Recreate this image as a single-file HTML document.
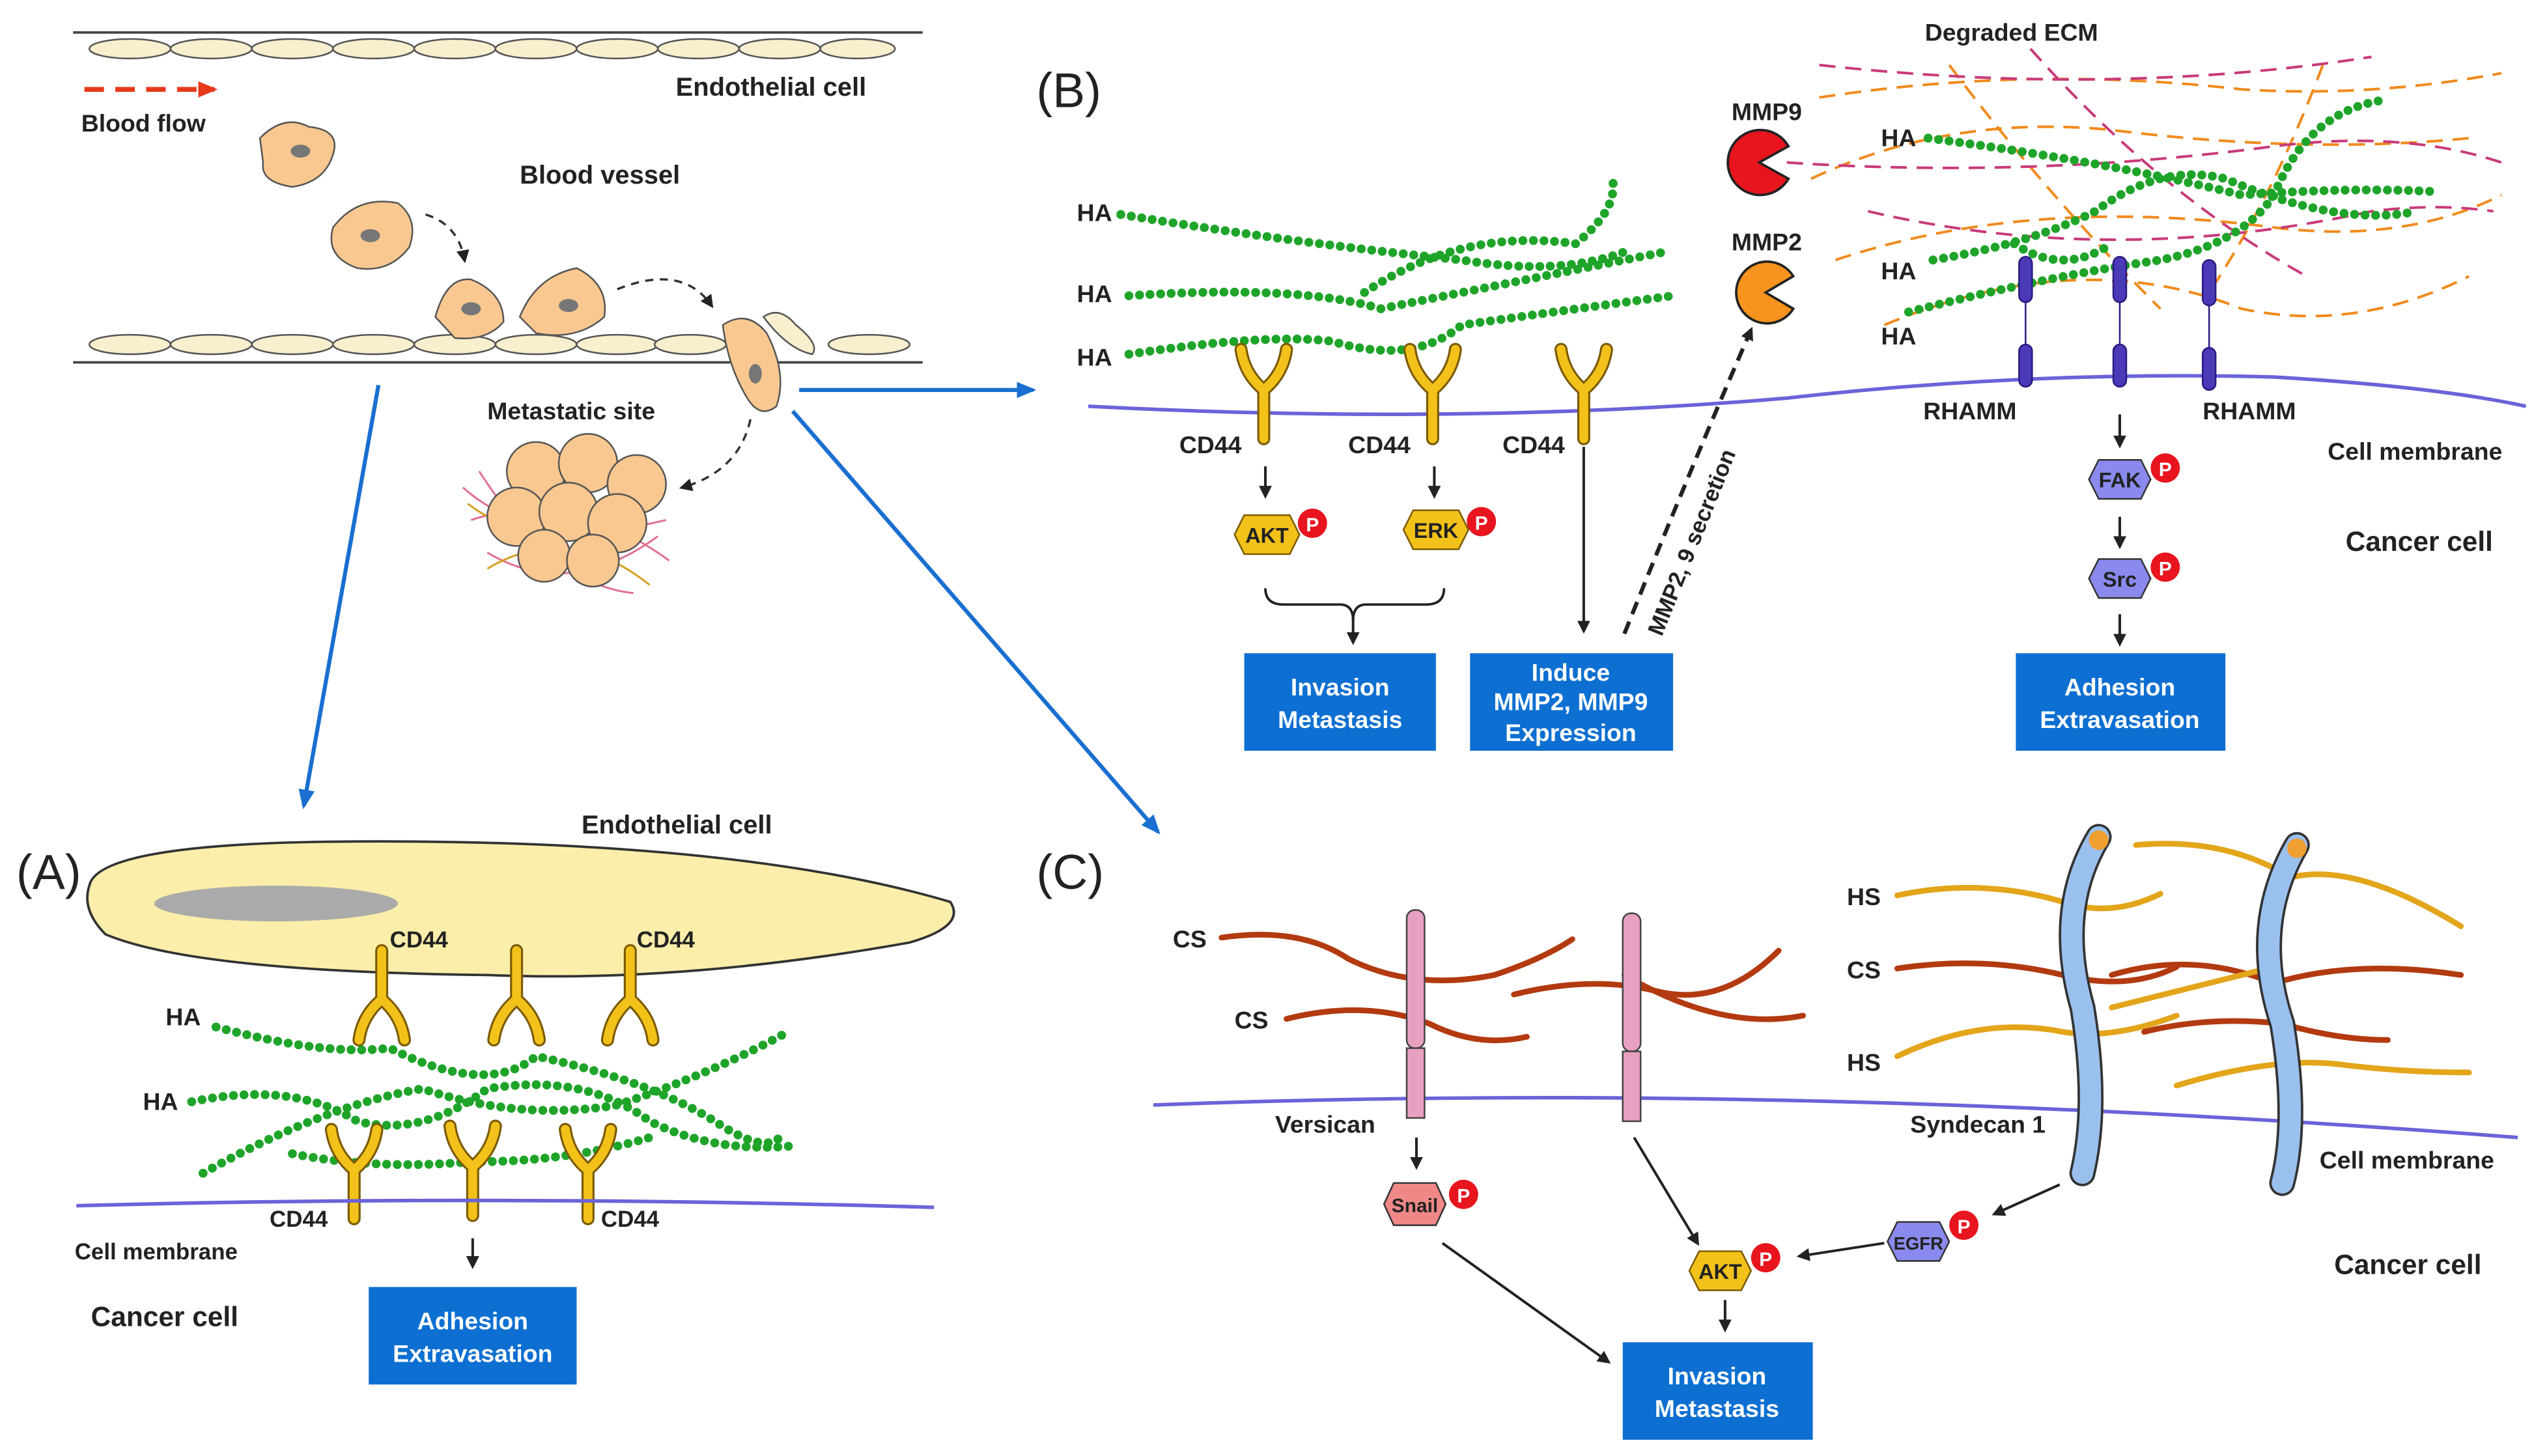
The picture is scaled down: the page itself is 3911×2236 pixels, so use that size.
<!DOCTYPE html>
<html><head><meta charset="utf-8"><style>
html,body{margin:0;padding:0;background:#fff}
svg{display:block}
text{font-family:"Liberation Sans",sans-serif;font-weight:bold;fill:#222}
.ha{fill:none;stroke:#1fa42a;stroke-width:5.5;stroke-linecap:round;stroke-dasharray:0 6.5}
.y{fill:none;stroke:#7a5a00;stroke-width:8;stroke-linecap:round}
.yi{fill:none;stroke:#f2c21a;stroke-width:5.5;stroke-linecap:round}
.ar{stroke:#222;stroke-width:1.6;fill:none;marker-end:url(#ah)}
.bl{stroke:#1a6fd0;stroke-width:2.5;fill:none;marker-end:url(#bh)}
.box{fill:#0d6fd1}
.bt{fill:#fff;font-size:15px;text-anchor:middle}
.mem{fill:none;stroke:#6a63d8;stroke-width:2.2}
.cs{fill:none;stroke:#b33a10;stroke-width:3.5;stroke-linecap:round}
.hs{fill:none;stroke:#e3a51a;stroke-width:3.5;stroke-linecap:round}
.ecm1{fill:none;stroke:#f08a1c;stroke-width:1.6;stroke-dasharray:10 6}
.ecm2{fill:none;stroke:#c83a7a;stroke-width:1.6;stroke-dasharray:10 6}
.endo{fill:#f8efcf;stroke:#555;stroke-width:1}
.cc{fill:#f8c890;stroke:#555;stroke-width:1}
</style></head><body>
<svg width="3911" height="2236" viewBox="0 0 1568 896" preserveAspectRatio="none" xmlns="http://www.w3.org/2000/svg">
<defs>
<marker id="ah" markerWidth="8" markerHeight="8" refX="6" refY="4" orient="auto" markerUnits="userSpaceOnUse"><path d="M0,0 L8,4 L0,8 z" fill="#222"/></marker>
<marker id="bh" markerWidth="12" markerHeight="10" refX="10" refY="5" orient="auto" markerUnits="userSpaceOnUse"><path d="M0,0 L12,5 L0,10 z" fill="#1a6fd0"/></marker>
<marker id="rh" markerWidth="12" markerHeight="10" refX="10" refY="5" orient="auto" markerUnits="userSpaceOnUse"><path d="M0,0 L12,5 L0,10 z" fill="#e8381a"/></marker>
<g id="yl"><path class="y" d="M0,0 L0,-30 M0,-30 Q-12,-40 -14,-55 M0,-30 Q12,-40 14,-55"/><path class="yi" d="M0,0 L0,-30 M0,-30 Q-12,-40 -14,-55 M0,-30 Q12,-40 14,-55"/></g>
<g id="yd"><path class="y" d="M0,0 L0,30 M0,30 Q-12,40 -14,55 M0,30 Q12,40 14,55"/><path class="yi" d="M0,0 L0,30 M0,30 Q-12,40 -14,55 M0,30 Q12,40 14,55"/></g>
<g id="p"><circle r="9" fill="#e8141e"/><text x="0" y="5" font-size="12" text-anchor="middle" style="fill:#fff">P</text></g>
</defs>

<!-- TOP VESSEL -->
<line x1="45" y1="20" x2="568" y2="20" stroke="#444" stroke-width="1.5"/>
<line x1="45" y1="223" x2="568" y2="223" stroke="#444" stroke-width="1.5"/>
<g>
<ellipse class="endo" cx="80" cy="30" rx="25" ry="6"/><ellipse class="endo" cx="130" cy="30" rx="25" ry="6"/><ellipse class="endo" cx="180" cy="30" rx="25" ry="6"/><ellipse class="endo" cx="230" cy="30" rx="25" ry="6"/><ellipse class="endo" cx="280" cy="30" rx="25" ry="6"/><ellipse class="endo" cx="330" cy="30" rx="25" ry="6"/><ellipse class="endo" cx="380" cy="30" rx="25" ry="6"/><ellipse class="endo" cx="430" cy="30" rx="25" ry="6"/><ellipse class="endo" cx="480" cy="30" rx="25" ry="6"/><ellipse class="endo" cx="528" cy="30" rx="23" ry="6"/>
<ellipse class="endo" cx="80" cy="212" rx="25" ry="6"/><ellipse class="endo" cx="130" cy="212" rx="25" ry="6"/><ellipse class="endo" cx="180" cy="212" rx="25" ry="6"/><ellipse class="endo" cx="230" cy="212" rx="25" ry="6"/><ellipse class="endo" cx="280" cy="212" rx="25" ry="6"/><ellipse class="endo" cx="330" cy="212" rx="25" ry="6"/><ellipse class="endo" cx="380" cy="212" rx="25" ry="6"/><ellipse class="endo" cx="425" cy="212" rx="22" ry="6"/><ellipse class="endo" cx="535" cy="212" rx="25" ry="6"/>
</g>
<text x="416" y="59" font-size="16">Endothelial cell</text>
<line x1="52" y1="55" x2="132" y2="55" stroke="#e8381a" stroke-width="3" stroke-dasharray="12 7" marker-end="url(#rh)"/>
<text x="50" y="81" font-size="15">Blood flow</text>
<text x="320" y="113" font-size="16">Blood vessel</text>
<path class="cc" d="M160,85 Q175,70 190,78 Q210,80 205,95 Q200,112 180,115 Q160,112 162,100 Z"/><ellipse cx="185" cy="93" rx="6" ry="4" fill="#777"/>
<path class="cc" d="M205,140 Q220,120 245,125 Q258,135 252,152 Q240,168 220,165 Q200,158 205,140 Z"/><ellipse cx="228" cy="145" rx="6" ry="4" fill="#777"/>
<path class="cc" d="M268,195 Q275,170 290,172 Q310,180 310,198 Q300,210 280,208 Z"/><ellipse cx="290" cy="190" rx="6" ry="4" fill="#777"/>
<path class="cc" d="M320,195 Q330,170 355,165 Q375,175 372,195 Q355,210 330,205 Z"/><ellipse cx="350" cy="188" rx="6" ry="4" fill="#777"/>
<path class="cc" d="M445,200 Q460,190 472,205 Q485,230 478,250 Q468,258 460,245 Q448,225 445,200 Z"/><ellipse cx="465" cy="230" rx="4" ry="6" fill="#777"/>
<path class="endo" d="M470,195 Q480,188 490,200 Q505,212 500,218 Q485,215 470,195 Z"/>
<path d="M262,132 Q282,138 286,160" fill="none" stroke="#333" stroke-width="1.4" stroke-dasharray="5 4" marker-end="url(#ah)"/>
<path d="M380,178 Q420,162 438,188" fill="none" stroke="#333" stroke-width="1.4" stroke-dasharray="5 4" marker-end="url(#ah)"/>
<path d="M462,258 Q455,290 420,300" fill="none" stroke="#333" stroke-width="1.4" stroke-dasharray="5 4" marker-end="url(#ah)"/>
<text x="300" y="258" font-size="15">Metastatic site</text>
<g>
<path d="M285,300 Q330,340 410,320 M290,320 Q350,300 412,345 M300,340 Q350,370 405,330 M295,290 Q340,360 390,365" fill="none" stroke="#e07090" stroke-width="1.2"/>
<path d="M288,310 Q340,350 410,300 M300,350 Q350,320 400,360" fill="none" stroke="#d4a020" stroke-width="1.2"/>
<circle class="cc" cx="330" cy="290" r="18"/><circle class="cc" cx="362" cy="285" r="18"/><circle class="cc" cx="392" cy="298" r="18"/>
<circle class="cc" cx="318" cy="318" r="18"/><circle class="cc" cx="350" cy="315" r="18"/><circle class="cc" cx="380" cy="322" r="18"/>
<circle class="cc" cx="335" cy="342" r="16"/><circle class="cc" cx="365" cy="345" r="16"/>
</g>
<line class="bl" x1="233" y1="237" x2="187" y2="496"/>
<line class="bl" x1="492" y1="240" x2="636" y2="240"/>
<line class="bl" x1="488" y1="253" x2="713" y2="512"/>

<!-- PANEL B -->
<text x="638" y="66" font-size="30" style="font-weight:normal">(B)</text>
<path class="mem" d="M670,250 Q900,262 1100,245 Q1250,228 1400,232 Q1500,238 1555,250"/>
<path class="ha" d="M690,132 Q800,150 900,160 Q960,170 1000,155"/>
<path class="ha" d="M695,182 Q800,175 850,190 Q950,170 1025,155"/>
<path class="ha" d="M695,218 Q780,205 820,210 Q870,225 900,200 Q970,190 1030,182"/>
<path class="ha" d="M840,180 Q900,140 970,150 Q995,130 993,112"/>
<text x="663" y="136" font-size="15">HA</text><text x="663" y="186" font-size="15">HA</text><text x="663" y="225" font-size="15">HA</text>
<use href="#yl" x="778" y="270"/><use href="#yl" x="882" y="270"/><use href="#yl" x="975" y="270"/>
<text x="726" y="279" font-size="15">CD44</text><text x="830" y="279" font-size="15">CD44</text><text x="925" y="279" font-size="15">CD44</text>
<line class="ar" x1="779" y1="287" x2="779" y2="305"/><line class="ar" x1="883" y1="287" x2="883" y2="305"/>
<polygon points="766,317 794,317 800,329 794,341 766,341 760,329" fill="#f2c21a" stroke="#7a5a00"/><text x="780" y="334" font-size="13" text-anchor="middle">AKT</text><use href="#p" x="808" y="322"/>
<polygon points="870,314 898,314 904,326 898,338 870,338 864,326" fill="#f2c21a" stroke="#7a5a00"/><text x="884" y="331" font-size="13" text-anchor="middle">ERK</text><use href="#p" x="912" y="321"/>
<path d="M779,362 Q779,372 790,372 L825,372 Q833,372 833,382 Q833,372 841,372 L878,372 Q889,372 889,362" fill="none" stroke="#222" stroke-width="1.5"/>
<line class="ar" x1="833" y1="380" x2="833" y2="395"/>
<rect class="box" x="766" y="402" width="118" height="60"/><text class="bt" x="825" y="428">Invasion</text><text class="bt" x="825" y="448">Metastasis</text>
<line class="ar" x1="975" y1="275" x2="975" y2="388"/>
<rect class="box" x="905" y="402" width="125" height="60"/><text class="bt" x="967" y="419">Induce</text><text class="bt" x="967" y="437">MMP2, MMP9</text><text class="bt" x="967" y="456">Expression</text>
<path d="M1000,390 Q1040,290 1078,203" fill="none" stroke="#222" stroke-width="2.5" stroke-dasharray="8 5" marker-end="url(#ah)"/>
<text x="0" y="0" font-size="14" transform="translate(1023,392) rotate(-68)">MMP2, 9 secretion</text>
<text x="1066" y="74" font-size="15">MMP9</text>
<path d="M1083,100 L1101,90 A20,20 0 1,0 1101,110 Z" fill="#e8141e" stroke="#222" stroke-width="1.5"/>
<text x="1066" y="154" font-size="15">MMP2</text>
<path d="M1087,180 L1104,170 A19,19 0 1,0 1104,190 Z" fill="#f7931e" stroke="#222" stroke-width="1.5"/>
<text x="1185" y="25" font-size="15">Degraded ECM</text>
<path class="ecm1" d="M1120,60 Q1250,40 1380,55 Q1460,60 1540,45"/><path class="ecm1" d="M1115,110 Q1200,70 1300,80 Q1420,95 1520,85"/>
<path class="ecm1" d="M1130,160 Q1250,120 1400,140 Q1480,150 1540,120"/><path class="ecm1" d="M1160,200 Q1280,150 1380,190 Q1450,205 1520,170"/>
<path class="ecm1" d="M1200,40 Q1260,120 1330,190"/><path class="ecm1" d="M1430,40 Q1400,120 1360,180"/>
<path class="ecm2" d="M1100,100 Q1250,110 1400,90 Q1480,80 1540,100"/><path class="ecm2" d="M1120,40 Q1300,60 1460,35"/>
<path class="ecm2" d="M1150,130 Q1300,165 1460,130 Q1500,125 1535,130"/><path class="ecm2" d="M1250,30 Q1330,120 1420,170"/>
<path class="ha" d="M1187,85 Q1300,100 1380,120 Q1450,115 1500,118"/>
<path class="ha" d="M1175,192 Q1260,170 1330,160 Q1380,150 1400,120 Q1420,70 1465,62"/>
<path class="ha" d="M1190,160 Q1250,150 1290,130 Q1330,100 1370,110 Q1440,140 1488,130"/>
<path class="ha" d="M1240,150 Q1270,170 1300,150"/>
<text x="1158" y="90" font-size="15">HA</text><text x="1158" y="172" font-size="15">HA</text><text x="1158" y="212" font-size="15">HA</text>
<g fill="#4a3ab8" stroke="#2a1a80">
<rect x="1243" y="158" width="8" height="28" rx="4"/><line x1="1247" y1="186" x2="1247" y2="212"/><rect x="1243" y="212" width="8" height="26" rx="4"/>
<rect x="1301" y="158" width="8" height="28" rx="4"/><line x1="1305" y1="186" x2="1305" y2="212"/><rect x="1301" y="212" width="8" height="26" rx="4"/>
<rect x="1356" y="160" width="8" height="28" rx="4"/><line x1="1360" y1="188" x2="1360" y2="214"/><rect x="1356" y="214" width="8" height="26" rx="4"/>
</g>
<text x="1184" y="258" font-size="15">RHAMM</text><text x="1356" y="258" font-size="15">RHAMM</text>
<text x="1433" y="283" font-size="15">Cell membrane</text>
<text x="1444" y="339" font-size="17">Cancer cell</text>
<line class="ar" x1="1305" y1="255" x2="1305" y2="274"/>
<polygon points="1292,283 1318,283 1324,295 1318,307 1292,307 1286,295" fill="#8a8aee" stroke="#333"/><text x="1305" y="300" font-size="13" text-anchor="middle">FAK</text><use href="#p" x="1333" y="288"/>
<line class="ar" x1="1305" y1="318" x2="1305" y2="336"/>
<polygon points="1292,344 1318,344 1324,356 1318,368 1292,368 1286,356" fill="#8a8aee" stroke="#333"/><text x="1305" y="361" font-size="13" text-anchor="middle">Src</text><use href="#p" x="1333" y="349"/>
<line class="ar" x1="1305" y1="378" x2="1305" y2="396"/>
<rect class="box" x="1241" y="402" width="129" height="60"/><text class="bt" x="1305" y="428">Adhesion</text><text class="bt" x="1305" y="448">Extravasation</text>

<!-- PANEL A -->
<text x="10" y="547" font-size="30" style="font-weight:normal">(A)</text>
<path d="M55,545 Q60,520 200,518 Q450,515 585,555 Q595,570 560,580 Q420,605 300,600 Q120,598 65,575 Q50,560 55,545 Z" fill="#faeeaa" stroke="#333" stroke-width="1.5"/>
<ellipse cx="170" cy="556" rx="75" ry="11" fill="#aaa"/>
<text x="358" y="513" font-size="16">Endothelial cell</text>
<use href="#yd" x="235" y="585"/><use href="#yd" x="318" y="585"/><use href="#yd" x="388" y="585"/>
<text x="240" y="583" font-size="14">CD44</text><text x="392" y="583" font-size="14">CD44</text>
<path class="ha" d="M133,632 Q200,650 240,645 Q300,675 330,650 Q400,665 440,690 Q470,710 480,700"/>
<path class="ha" d="M118,678 Q180,665 220,690 Q260,700 300,670 Q360,660 400,690 Q440,710 490,705"/>
<path class="ha" d="M125,722 Q200,680 260,670 Q320,690 380,680 Q440,660 485,635"/>
<path class="ha" d="M180,710 Q230,720 290,715 Q350,715 400,700"/>
<text x="102" y="631" font-size="15">HA</text><text x="88" y="683" font-size="15">HA</text>
<use href="#yl" x="218" y="750"/><use href="#yl" x="291" y="748"/><use href="#yl" x="362" y="750"/>
<path class="mem" d="M47,742 Q300,735 575,743"/>
<text x="166" y="755" font-size="14">CD44</text><text x="370" y="755" font-size="14">CD44</text>
<text x="46" y="775" font-size="14">Cell membrane</text>
<text x="56" y="816" font-size="17">Cancer cell</text>
<line class="ar" x1="291" y1="762" x2="291" y2="779"/>
<rect class="box" x="227" y="792" width="128" height="60"/><text class="bt" x="291" y="818">Adhesion</text><text class="bt" x="291" y="838">Extravasation</text>

<!-- PANEL C -->
<text x="638" y="547" font-size="30" style="font-weight:normal">(C)</text>
<path class="mem" d="M710,680 Q1100,665 1550,700"/>
<path class="cs" d="M752,577 Q800,570 830,590 Q870,610 920,600 Q950,590 968,578"/>
<path class="cs" d="M792,627 Q840,615 880,630 Q910,645 940,638"/>
<path class="cs" d="M932,612 Q980,600 1020,610 Q1060,620 1095,585"/>
<path class="cs" d="M1000,600 Q1060,635 1110,625"/>
<text x="722" y="583" font-size="15">CS</text><text x="760" y="633" font-size="15">CS</text>
<g fill="#e8a0c0" stroke="#444">
<rect x="866" y="560" width="11" height="85" rx="5"/><rect x="866" y="645" width="11" height="43"/>
<rect x="999" y="562" width="11" height="85" rx="5"/><rect x="999" y="647" width="11" height="43"/>
</g>
<path class="hs" d="M1168,551 Q1220,540 1270,555 Q1300,565 1330,550"/>
<path class="cs" d="M1168,596 Q1220,588 1270,600 Q1310,610 1340,595"/>
<path class="hs" d="M1168,650 Q1220,625 1270,635 Q1300,640 1340,625"/>
<path class="hs" d="M1315,520 Q1370,515 1410,540 Q1450,530 1515,570"/>
<path class="cs" d="M1300,600 Q1350,585 1400,605 Q1450,590 1515,600"/>
<path class="hs" d="M1300,620 Q1360,605 1400,595"/>
<path class="cs" d="M1320,635 Q1360,625 1405,630 Q1440,640 1470,640"/>
<path class="hs" d="M1340,668 Q1400,650 1440,655 Q1480,660 1520,660"/>
<text x="1137" y="557" font-size="15">HS</text><text x="1137" y="602" font-size="15">CS</text><text x="1137" y="659" font-size="15">HS</text>
<path d="M1292,515 Q1265,560 1282,620 Q1292,680 1282,722" fill="none" stroke="#333" stroke-width="16" stroke-linecap="round"/>
<path d="M1292,515 Q1265,560 1282,620 Q1292,680 1282,722" fill="none" stroke="#9ac0ee" stroke-width="13" stroke-linecap="round"/>
<path d="M1414,520 Q1385,570 1405,630 Q1415,690 1405,728" fill="none" stroke="#333" stroke-width="16" stroke-linecap="round"/>
<path d="M1414,520 Q1385,570 1405,630 Q1415,690 1405,728" fill="none" stroke="#9ac0ee" stroke-width="13" stroke-linecap="round"/>
<circle cx="1292" cy="517" r="6" fill="#f0a030"/><circle cx="1414" cy="522" r="6" fill="#f0a030"/>
<text x="785" y="697" font-size="15">Versican</text>
<text x="1176" y="697" font-size="15">Syndecan 1</text>
<text x="1428" y="719" font-size="15">Cell membrane</text>
<text x="1437" y="784" font-size="17">Cancer cell</text>
<line class="ar" x1="872" y1="700" x2="872" y2="718"/>
<polygon points="858,728 884,728 890,741 884,754 858,754 852,741" fill="#f08888" stroke="#333"/><text x="871" y="746" font-size="12" text-anchor="middle">Snail</text><use href="#p" x="901" y="735"/>
<line class="ar" x1="1006" y1="700" x2="1045" y2="765"/>
<polygon points="1046,770 1072,770 1078,782 1072,794 1046,794 1040,782" fill="#f2c21a" stroke="#7a5a00"/><text x="1059" y="787" font-size="13" text-anchor="middle">AKT</text><use href="#p" x="1087" y="774"/>
<polygon points="1168,752 1194,752 1200,764 1194,776 1168,776 1162,764" fill="#8a8aee" stroke="#333"/><text x="1181" y="769" font-size="11" text-anchor="middle">EGFR</text><use href="#p" x="1209" y="754"/>
<line class="ar" x1="1268" y1="729" x2="1228" y2="747"/>
<line class="ar" x1="1160" y1="765" x2="1108" y2="773"/>
<line class="ar" x1="888" y1="765" x2="990" y2="838"/>
<line class="ar" x1="1062" y1="800" x2="1062" y2="818"/>
<rect class="box" x="999" y="826" width="117" height="60"/><text class="bt" x="1057" y="852">Invasion</text><text class="bt" x="1057" y="872">Metastasis</text>
</svg>
</body></html>
